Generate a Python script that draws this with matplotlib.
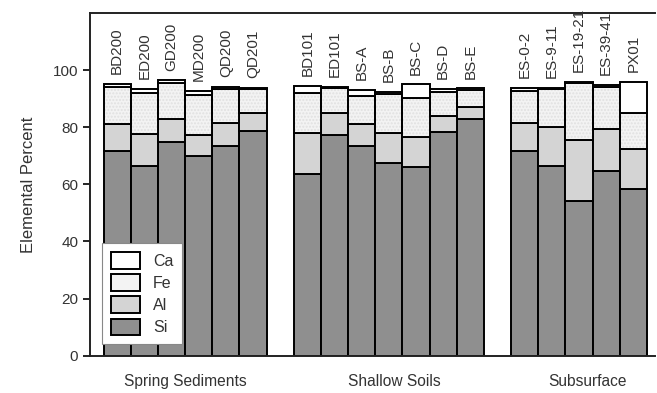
import numpy as np
import matplotlib
matplotlib.use('Agg')
import matplotlib.pyplot as plt
from matplotlib.patches import Patch

plt.rcParams['font.family'] = ['Liberation Sans', 'DejaVu Sans']

# sample names per group
groups = ['Spring Sediments', 'Shallow Soils', 'Subsurface']
samples = [
    ['BD200', 'ED200', 'GD200', 'MD200', 'QD200', 'QD201'],
    ['BD101', 'ED101', 'BS-A', 'BS-B', 'BS-C', 'BS-D', 'BS-E'],
    ['ES-0-2', 'ES-9-11', 'ES-19-21', 'ES-39-41', 'PX01'],
]

# elemental percent
si = [71.7, 66.3, 74.9, 69.8, 73.5, 78.7,
      63.6, 77.2, 73.3, 67.5, 65.9, 78.4, 82.8,
      71.5, 66.3, 54.3, 64.8, 58.4]
al = [9.3, 11.3, 7.9, 7.5, 7.8, 6.4,
      14.3, 7.7, 7.8, 10.4, 10.5, 5.6, 4.3,
      9.9, 13.6, 21.2, 14.7, 13.9]
fe = [13.1, 14.5, 12.8, 14.0, 12.2, 8.2,
      14.2, 8.7, 9.8, 13.8, 13.7, 8.4, 5.8,
      11.3, 13.4, 19.9, 14.6, 12.8]
ca = [1.1, 1.2, 0.8, 1.4, 0.7, 0.5,
      2.3, 0.6, 2.1, 0.7, 4.9, 1.1, 0.7,
      1.1, 0.5, 0.5, 0.7, 10.8]

# x positions: one empty slot between groups
xpos = []
start = 0
for g in samples:
    xpos += list(range(start, start + len(g)))
    start += len(g) + 1
xpos = np.array(xpos)
names = [n for g in samples for n in g]

si = np.array(si); al = np.array(al); fe = np.array(fe); ca = np.array(ca)

fig = plt.figure(figsize=(6.57, 3.93), dpi=100)
ax = fig.add_axes([0.137, 0.095, 0.86, 0.872])

txt = '#333333'
w = 1.0
lw = 1.4
c_si, c_al, c_fe, c_ca = '#8f8f8f', '#d4d4d4', '#f3f3f3', '#ffffff'

ax.bar(xpos, si, w, color=c_si, edgecolor='black', linewidth=lw, zorder=2)
ax.bar(xpos, al, w, bottom=si, color=c_al, edgecolor='black', linewidth=lw, zorder=2)
# Fe: light stipple
ax.bar(xpos, fe, w, bottom=si + al, color=c_fe, edgecolor='#e0e0e0', hatch='.....',
       linewidth=0, zorder=2)
ax.bar(xpos, fe, w, bottom=si + al, color='none', edgecolor='black', linewidth=lw, zorder=3)
ax.bar(xpos, ca, w, bottom=si + al + fe, color=c_ca, edgecolor='black', linewidth=lw, zorder=3)

total = si + al + fe + ca
for x, t, n in zip(xpos, total, names):
    ax.annotate(n, (x, t), xytext=(0, 7), textcoords='offset points',
                rotation=90, ha='center', va='bottom', fontsize=11, color=txt)

# group labels under the axis
group_x = [2.5, 10.2, 17.3]
for gx, g in zip(group_x, groups):
    ax.text(gx, -9.1, g, ha='center', va='center', fontsize=11.2, color=txt, clip_on=False)

ax.set_xlim(-1.0, 19.8)
ax.set_ylim(0, 120)
ax.set_yticks([0, 20, 40, 60, 80, 100])
ax.tick_params(axis='y', labelsize=11, labelcolor=txt, length=5, width=1.2, direction='out')
ax.set_xticks([])
ax.set_ylabel('Elemental Percent', fontsize=12, color=txt, labelpad=12)
for s in ['top', 'left', 'bottom']:
    ax.spines[s].set_linewidth(1.4)
    ax.spines[s].set_color('#222222')
ax.spines['right'].set_visible(False)

handles = [Patch(facecolor=c_ca, edgecolor='black', linewidth=1.4, label='Ca'),
           Patch(facecolor=c_fe, edgecolor='black', linewidth=1.4, label='Fe'),
           Patch(facecolor=c_al, edgecolor='black', linewidth=1.4, label='Al'),
           Patch(facecolor=c_si, edgecolor='black', linewidth=1.4, label='Si')]
leg = ax.legend(handles=handles, loc='lower left', bbox_to_anchor=(0.021, 0.034),
                fontsize=11.5, frameon=True, fancybox=False, framealpha=1,
                handlelength=1.85, handleheight=1.2, labelspacing=0.35,
                borderpad=0.55, handletextpad=0.8, borderaxespad=0)
leg.get_frame().set_edgecolor('#888888')
leg.get_frame().set_linewidth(0.8)
for t in leg.get_texts():
    t.set_color(txt)
leg.set_zorder(5)

fig.savefig('out.png', dpi=100)
